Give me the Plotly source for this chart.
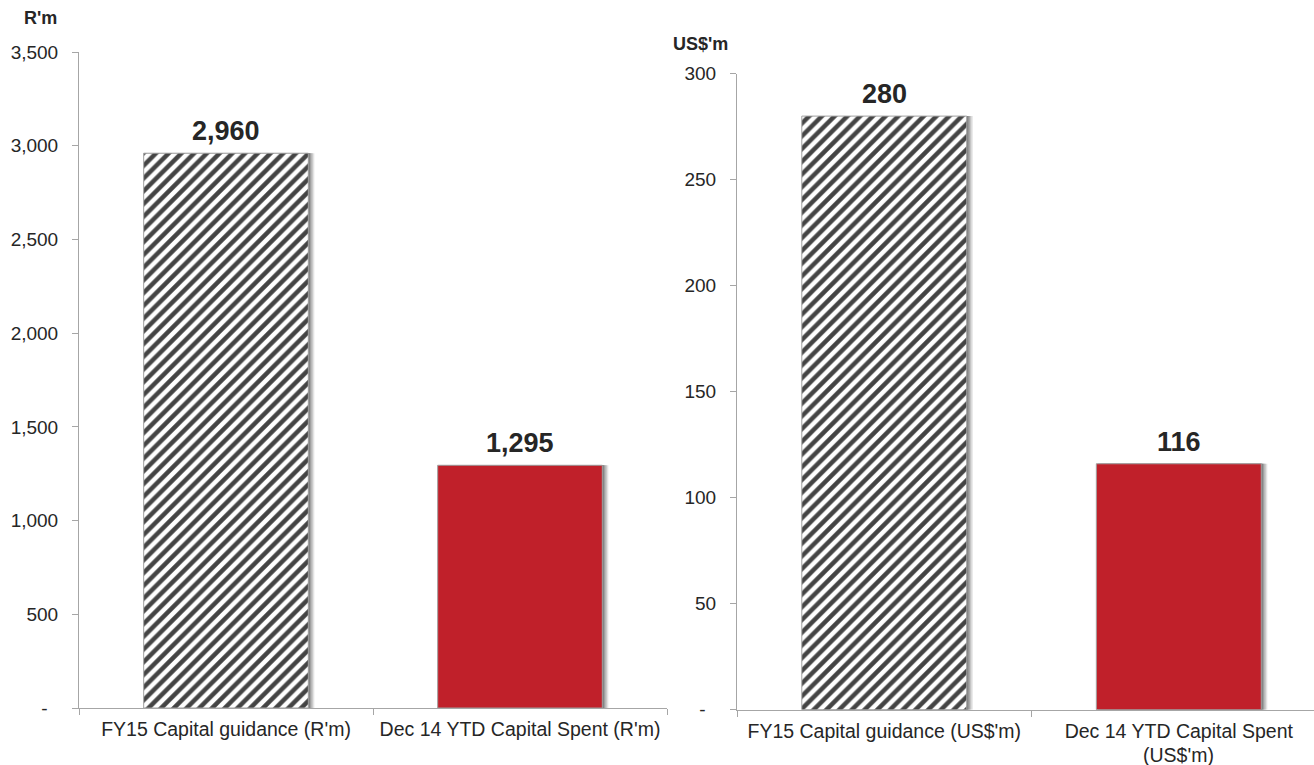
import plotly.graph_objects as go

# Capital guidance vs. year-to-date spend, in rand and in US dollars
rand_categories = ["FY15 Capital guidance (R'm)", "Dec 14 YTD Capital Spent (R'm)"]
rand_values = [2960, 1295]
rand_tickvals = [0, 500, 1000, 1500, 2000, 2500, 3000, 3500]
rand_ticktext = ["-\u2007", "500", "1,000", "1,500", "2,000", "2,500", "3,000", "3,500"]

usd_categories = ["FY15 Capital guidance (US$'m)", "Dec 14 YTD Capital Spent (US$'m)"]
usd_label_lines = [["FY15 Capital guidance (US$'m)"], ["Dec 14 YTD Capital Spent", "(US$'m)"]]
usd_values = [280, 116]
usd_tickvals = [0, 50, 100, 150, 200, 250, 300]
usd_ticktext = ["-\u2007", "50", "100", "150", "200", "250", "300"]

FONT = "Liberation Sans, Arial, sans-serif"
TEXT = "#262626"
AXIS = "#A6A6A6"
RED = "#C0202A"
BAR_W = 0.56
PX_PER_CAT = 294.0
W, H = 1314, 765

fig = go.Figure()


def add_bars(cats, vals, xa, ya):
    # soft drop shadow: grey copies of each bar nudged to the right
    for shift_px, col in [(6, "#e3e3e3"), (4.5, "#c4c4c4"), (3, "#a0a0a0"), (1.5, "#7f7f7f")]:
        fig.add_trace(go.Bar(
            x=cats, y=vals, xaxis=xa, yaxis=ya,
            width=BAR_W, offset=-BAR_W / 2 + shift_px / PX_PER_CAT,
            marker=dict(color=col, line=dict(width=0)),
            hoverinfo="skip", showlegend=False,
        ))
    fig.add_trace(go.Bar(
        x=cats, y=vals, xaxis=xa, yaxis=ya,
        width=BAR_W, offset=-BAR_W / 2,
        marker=dict(
            color=["white", RED],
            line=dict(color="#A0A0A0", width=1),
            pattern=dict(shape=["/", ""], fgcolor="black", fgopacity=1,
                         size=9, solidity=0.5, fillmode="overlay"),
        ),
        showlegend=False,
    ))
    for c, v in zip(cats, vals):
        fig.add_annotation(
            x=c, y=v, xref=xa, yref=ya, text=f"<b>{v:,}</b>",
            showarrow=False, yanchor="bottom", yshift=5,
            font=dict(family=FONT, size=27, color=TEXT),
        )


add_bars(rand_categories, rand_values, "x", "y")
add_bars(usd_categories, usd_values, "x2", "y2")

# wrapped category labels: first line as the tick label, the rest underneath
for c, lines in zip(usd_categories, usd_label_lines):
    for i, line in enumerate(lines[1:], start=1):
        fig.add_annotation(
            x=c, xref="x2", y=1 - (732 + 23 * i) / H, yref="paper",
            text=line, showarrow=False, xanchor="center", yanchor="middle",
            font=dict(family=FONT, size=19.5, color=TEXT),
        )

xcommon = dict(
    type="category", showline=True, linecolor=AXIS, linewidth=1,
    ticks="outside", tickson="boundaries", ticklen=6, tickcolor=AXIS,
    tickfont=dict(family=FONT, size=19.5, color=TEXT), showgrid=False,
    zeroline=False, fixedrange=True, ticklabelstandoff=4, automargin=False,
)
ycommon = dict(
    showline=True, linecolor=AXIS, linewidth=1, ticks="outside", ticklen=6,
    tickcolor=AXIS, tickfont=dict(family=FONT, size=19, color=TEXT),
    showgrid=False, zeroline=False, fixedrange=True, ticklabelstandoff=10,
    automargin=False,
)

fig.update_layout(
    width=W, height=H, margin=dict(l=0, r=0, t=0, b=0, autoexpand=False),
    paper_bgcolor="white", plot_bgcolor="white", barmode="overlay",
    font=dict(family=FONT, color=TEXT),
    xaxis=dict(xcommon, domain=[79 / W, 667 / W], range=[-0.5, 1.5], anchor="y"),
    yaxis=dict(ycommon, domain=[57 / H, 713 / H], range=[0, 3500],
               tickvals=rand_tickvals, ticktext=rand_ticktext, anchor="x"),
    xaxis2=dict(xcommon, domain=[737 / W, 1.0], range=[-0.5, 1.459], anchor="y2",
                tickvals=usd_categories, ticktext=[l[0] for l in usd_label_lines]),
    yaxis2=dict(ycommon, domain=[55.3 / H, 691.3 / H], range=[0, 300],
                tickvals=usd_tickvals, ticktext=usd_ticktext, anchor="x2"),
)

fig.add_annotation(x=40 / W, y=1 - 18 / H, xref="paper", yref="paper",
                   xanchor="center", yanchor="middle",
                   text="<b>R'm</b>", showarrow=False,
                   font=dict(family=FONT, size=18, color=TEXT))
fig.add_annotation(x=700 / W, y=1 - 44 / H, xref="paper", yref="paper",
                   xanchor="center", yanchor="middle",
                   text="<b>US$'m</b>", showarrow=False,
                   font=dict(family=FONT, size=18, color=TEXT))

fig.write_html("out.html")
